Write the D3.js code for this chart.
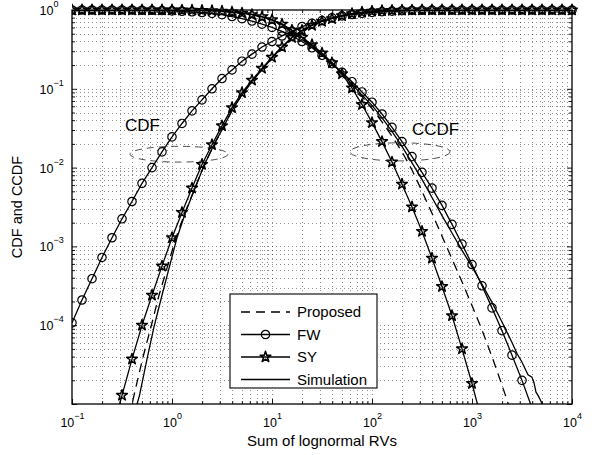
<!DOCTYPE html>
<html>
<head>
<meta charset="utf-8">
<script src="https://cdn.jsdelivr.net/npm/d3@7"></script>
<style>
  body { margin: 0; background: #fff; }
  text { font-family: "Liberation Sans", Arial, Helvetica, sans-serif; fill: #000; }
</style>
</head>
<body>
<svg id="chart" width="602" height="455"></svg>
<script>
// All values are log10 exponents

// x positions of the marker series (one point every 0.1 decade)
const gridExp = [-1.0, -0.9, -0.8, -0.7, -0.6, -0.5, -0.4, -0.3, -0.2, -0.1,
  0.0, 0.1, 0.2, 0.3, 0.4, 0.5, 0.6, 0.7, 0.8, 0.9,
  1.0, 1.1, 1.2, 1.3, 1.4, 1.5, 1.6, 1.7, 1.8, 1.9,
  2.0, 2.1, 2.2, 2.3, 2.4, 2.5, 2.6, 2.7, 2.8, 2.9,
  3.0, 3.1, 3.2, 3.3, 3.4, 3.5, 3.6, 3.7, 3.8, 3.9, 4.0];

// FW (circles)
const fwCdf = [-3.97, -3.68, -3.41, -3.14, -2.89, -2.65, -2.43, -2.20, -2.00, -1.80,
  -1.61, -1.44, -1.28, -1.14, -1.00, -0.87, -0.76, -0.65, -0.56, -0.47,
  -0.40, -0.33, -0.27, -0.21, -0.17, -0.135, -0.10, -0.075, -0.057, -0.042,
  -0.030, -0.021, -0.014, -0.009, -0.006, -0.004, -0.002, -0.001, -0.001, 0,
  0, 0, 0, 0, 0, 0, 0, 0, 0, 0, 0];
const fwCcdf = [0, 0, 0, 0, 0, 0, 0, -0.003, -0.004, -0.007,
  -0.011, -0.016, -0.023, -0.032, -0.044, -0.06, -0.083, -0.11, -0.14, -0.18,
  -0.22, -0.27, -0.33, -0.40, -0.48, -0.575, -0.68, -0.79, -0.91, -1.04,
  -1.17, -1.32, -1.49, -1.67, -1.86, -2.06, -2.26, -2.48, -2.72, -2.97,
  -3.23, -3.50, -3.78, -4.07, -4.38, -4.70, -5.05, -5.42, null, null, null];

// SY (stars)
const syCdf = [null, null, null, null, -5.36, -4.89, -4.43, -4.00, -3.62, -3.25,
  -2.89, -2.57, -2.26, -1.96, -1.71, -1.47, -1.24, -1.05, -0.89, -0.74,
  -0.60, -0.47, -0.35, -0.26, -0.195, -0.145, -0.11, -0.073, -0.047, -0.028,
  -0.016, -0.009, -0.005, -0.003, -0.001, 0, 0, 0, 0, 0,
  0, 0, 0, 0, 0, 0, 0, 0, 0, 0, 0];
const syCcdf = [0, 0, 0, 0, 0, 0, 0, 0, 0, 0,
  0, -0.001, -0.002, -0.005, -0.009, -0.015, -0.026, -0.040, -0.060, -0.087,
  -0.125, -0.18, -0.257, -0.347, -0.441, -0.547, -0.67, -0.81, -0.99, -1.20,
  -1.43, -1.67, -1.93, -2.21, -2.50, -2.81, -3.15, -3.51, -3.88, -4.30,
  -4.74, -5.22, null, null, null, null, null, null, null, null, null];

// Proposed (dashed)
const propCdfX = [-0.43, -0.403, -0.38, -0.295, -0.21, -0.13, -0.044,
  0.04, 0.13, 0.23, 0.325, 0.42, 0.52, 0.615, 0.715, 0.81, 0.91,
  1.005, 1.1, 1.2, 1.3, 1.4, 1.5, 1.6, 1.7, 1.8, 1.9,
  2.0, 2.2, 2.5, 3.0, 4.0];
const propCdfY = [-5.15, -5.02, -4.89, -4.43, -4.02, -3.62, -3.25,
  -2.89, -2.57, -2.26, -1.96, -1.71, -1.47, -1.24, -1.05, -0.89, -0.74,
  -0.60, -0.47, -0.35, -0.26, -0.19, -0.14, -0.105, -0.075, -0.05, -0.037,
  -0.027, -0.013, -0.003, 0, 0];
const propCcdfX = [-1.0, 0.0, 0.3, 0.5, 0.7, 0.8, 0.9, 1.0,
  1.1, 1.2, 1.3, 1.4, 1.5, 1.6, 1.7, 1.8, 1.9,
  2.0, 2.1, 2.2, 2.3, 2.4, 2.5, 2.6, 2.7, 2.8, 2.9,
  3.0, 3.1, 3.2, 3.3, 3.4, 3.5];
const propCcdfY = [0, 0, -0.004, -0.014, -0.04, -0.058, -0.087, -0.126,
  -0.185, -0.265, -0.355, -0.46, -0.57, -0.69, -0.82, -0.96, -1.10,
  -1.25, -1.42, -1.60, -1.80, -2.03, -2.30, -2.58, -2.87, -3.16, -3.45,
  -3.75, -4.06, -4.40, -4.76, -5.14, -5.55];

// Simulation (solid)
const simCdfX = [-0.36, -0.325, -0.25, -0.18, -0.10, -0.024,
  0.05, 0.135, 0.23, 0.325, 0.42, 0.52, 0.615, 0.715, 0.81, 0.91,
  1.005, 1.1, 1.2, 1.3, 1.4, 1.5, 1.6, 1.7, 1.8, 1.9,
  2.0, 2.1, 2.2, 2.3, 2.4, 2.5, 2.7, 3.0, 4.0];
const simCdfY = [-5.05, -4.89, -4.43, -4.02, -3.62, -3.25,
  -2.89, -2.57, -2.26, -1.96, -1.71, -1.47, -1.24, -1.05, -0.89, -0.74,
  -0.60, -0.47, -0.35, -0.26, -0.19, -0.14, -0.105, -0.075, -0.05, -0.037,
  -0.027, -0.019, -0.013, -0.008, -0.005, -0.003, -0.001, 0, 0];
const simCcdfX = [-1.0, 0.0, 0.3, 0.5, 0.7, 0.8, 0.9, 1.0,
  1.1, 1.2, 1.3, 1.4, 1.5, 1.6, 1.7, 1.8, 1.9,
  2.0, 2.1, 2.2, 2.3, 2.4, 2.5, 2.6, 2.7, 2.8, 2.9,
  3.0, 3.1, 3.2, 3.3, 3.4,
  3.45, 3.5, 3.56, 3.6, 3.62, 3.64, 3.66, 3.68, 3.72];
const simCcdfY = [0, 0, -0.004, -0.013, -0.038, -0.056, -0.084, -0.122,
  -0.18, -0.26, -0.35, -0.45, -0.56, -0.68, -0.80, -0.94, -1.08,
  -1.21, -1.37, -1.54, -1.73, -1.94, -2.15, -2.38, -2.61, -2.83, -3.05,
  -3.26, -3.48, -3.71, -3.96, -4.22,
  -4.36, -4.47, -4.63, -4.66, -4.73, -4.85, -4.89, -4.94, -5.05];

// axis ticks (exponents) and texts
const xTickExps = [-1, 0, 1, 2, 3, 4];
const yTickExps = [0, -1, -2, -3, -4];
const legendNames = ["Proposed", "FW", "SY", "Simulation"];

// ---------------------------------------------------------------
const svg = d3.select("#chart");
const plot = { left: 72, right: 572, top: 10, bottom: 404 };

const x = d3.scaleLog().domain([0.1, 1e4]).range([plot.left, plot.right]);
const y = d3.scaleLog().domain([1e-5, 1]).range([plot.bottom, plot.top]);

const toPts = (xs, ys) => xs.map((e, i) => [10 ** e, ys[i] == null ? null : 10 ** ys[i]]);

const defs = svg.append("defs");
defs.append("clipPath").attr("id", "clipLines")
  .append("rect")
  .attr("x", plot.left).attr("y", plot.top)
  .attr("width", plot.right - plot.left).attr("height", plot.bottom - plot.top);
defs.append("clipPath").attr("id", "clipMarks")
  .append("rect")
  .attr("x", plot.left).attr("y", 0)
  .attr("width", 602 - plot.left).attr("height", plot.bottom + 0.5);

// dotted grid (major + minor)
const xGrid = x.ticks().filter(v => v > 0.1 && v < 1e4);
const yGrid = y.ticks().filter(v => v > 1e-5 && v < 1);
const grid = svg.append("g")
  .attr("stroke", "#000")
  .attr("stroke-opacity", 0.55)
  .attr("stroke-width", 0.8)
  .attr("stroke-dasharray", "1,3");
grid.selectAll(".gx").data(xGrid).enter().append("line")
  .attr("x1", d => Math.round(x(d)) + 0.5).attr("x2", d => Math.round(x(d)) + 0.5)
  .attr("y1", plot.top).attr("y2", plot.bottom);
grid.selectAll(".gy").data(yGrid).enter().append("line")
  .attr("y1", d => Math.round(y(d)) + 0.5).attr("y2", d => Math.round(y(d)) + 0.5)
  .attr("x1", plot.left).attr("x2", plot.right);

// tick marks, inward on all four sides
const xMajor = xTickExps.map(e => 10 ** e);
const yMajor = d3.range(-5, 1).map(e => 10 ** e);
const xMinor = x.ticks().filter(v => !xMajor.includes(v));
const yMinor = y.ticks().filter(v => !yMajor.some(m => Math.abs(m - v) / v < 1e-9));

function tickSet(axisFn, scale, values, size, transform) {
  const g = svg.append("g")
    .attr("transform", transform)
    .call(axisFn(scale).tickValues(values).tickSize(-size).tickFormat(""));
  g.select(".domain").remove();
  g.selectAll(".tick line").attr("stroke", "#000").attr("stroke-width", 0.9);
  return g;
}
tickSet(d3.axisBottom, x, xMinor, 3, `translate(0,${plot.bottom})`);
tickSet(d3.axisTop, x, xMinor, 3, `translate(0,${plot.top})`);
tickSet(d3.axisLeft, y, yMinor, 3, `translate(${plot.left},0)`);
tickSet(d3.axisRight, y, yMinor, 3, `translate(${plot.right},0)`);
tickSet(d3.axisTop, x, xMajor, 5, `translate(0,${plot.top})`);
tickSet(d3.axisRight, y, yMajor, 5, `translate(${plot.right},0)`);

// labelled axes
const xAxisG = tickSet(d3.axisBottom, x, xMajor, 5, `translate(0,${plot.bottom})`);
xAxisG.selectAll(".tick").each(function (d, i) {
  const t = d3.select(this).append("text")
    .attr("y", 23).attr("text-anchor", "middle")
    .style("font-size", "12.5px");
  t.append("tspan").text("10");
  t.append("tspan").attr("dy", -8).style("font-size", "9px")
    .text(String(xTickExps[i]).replace("-", "\u2212"));
});

const yAxisG = tickSet(d3.axisLeft, y, yMajor, 5, `translate(${plot.left},0)`);
yAxisG.selectAll(".tick").each(function (d) {
  const e = Math.round(Math.log10(d));
  if (!yTickExps.includes(e)) return;
  const t = d3.select(this).append("text")
    .attr("x", -32.5).attr("y", 4.5).attr("text-anchor", "start")
    .style("font-size", "12.5px");
  t.append("tspan").text("10");
  t.append("tspan").attr("dy", -8).style("font-size", "9px")
    .text(String(e).replace("-", "\u2212"));
});

// axis titles
svg.append("text")
  .attr("x", (plot.left + plot.right) / 2).attr("y", 446)
  .attr("text-anchor", "middle").style("font-size", "15px")
  .text("Sum of lognormal RVs");
svg.append("text")
  .attr("transform", `translate(22,${(plot.top + plot.bottom) / 2}) rotate(-90)`)
  .attr("text-anchor", "middle").style("font-size", "14.5px")
  .text("CDF and CCDF");

// series
const series = [
  { name: "Proposed", parts: [toPts(propCdfX, propCdfY), toPts(propCcdfX, propCcdfY)], dash: "9,6", marker: null },
  { name: "FW", parts: [toPts(gridExp, fwCdf), toPts(gridExp, fwCcdf)], dash: null, marker: "circle" },
  { name: "SY", parts: [toPts(gridExp, syCdf), toPts(gridExp, syCcdf)], dash: null, marker: "star" },
  { name: "Simulation", parts: [toPts(simCdfX, simCdfY), toPts(simCcdfX, simCcdfY)], dash: null, marker: null }
];

const line = d3.line()
  .defined(d => d[1] != null)
  .x(d => x(d[0]))
  .y(d => y(d[1]));

const starPath = d3.symbol(d3.symbolStar, 36)();

function drawMarker(sel, type) {
  if (type === "circle") {
    sel.append("circle").attr("r", 4.2)
      .attr("fill", "none").attr("stroke", "#000").attr("stroke-width", 1.2);
  } else if (type === "star") {
    sel.append("path").attr("d", starPath)
      .attr("fill", "none").attr("stroke", "#000").attr("stroke-width", 1.5)
      .attr("stroke-linejoin", "round");
  }
}

const linesG = svg.append("g").attr("clip-path", "url(#clipLines)");
const marksG = svg.append("g").attr("clip-path", "url(#clipMarks)");

series.forEach(s => {
  s.parts.forEach(pts => {
    linesG.append("path")
      .datum(pts)
      .attr("d", line)
      .attr("fill", "none")
      .attr("stroke", "#000")
      .attr("stroke-width", 1.3)
      .attr("stroke-dasharray", s.dash);
    if (s.marker) {
      marksG.selectAll(null)
        .data(pts.filter(d => d[1] != null && d[1] >= 1e-5))
        .enter().append("g")
        .attr("transform", d => `translate(${x(d[0])},${y(d[1])})`)
        .each(function () { drawMarker(d3.select(this), s.marker); });
    }
  });
});

// dashed ellipses and their labels
const notes = [
  { label: "CDF", cx: 0.07, cy: -1.83, rxDec: 0.49, ryDec: 0.10, tx: -0.295, ty: -1.535 },
  { label: "CCDF", cx: 2.28, cy: -1.80, rxDec: 0.50, ryDec: 0.115, tx: 2.635, ty: -1.585 }
];
notes.forEach(n => {
  svg.append("ellipse")
    .attr("cx", x(10 ** n.cx)).attr("cy", y(10 ** n.cy))
    .attr("rx", x(10 ** (n.cx + n.rxDec)) - x(10 ** n.cx))
    .attr("ry", y(10 ** n.cy) - y(10 ** (n.cy + n.ryDec)))
    .attr("fill", "none").attr("stroke", "#222").attr("stroke-width", 0.8)
    .attr("stroke-dasharray", "7,5");
  svg.append("text")
    .attr("x", x(10 ** n.tx)).attr("y", y(10 ** n.ty))
    .attr("text-anchor", "middle").style("font-size", "17px")
    .text(n.label);
});

// axes box
svg.append("rect")
  .attr("x", plot.left).attr("y", plot.top)
  .attr("width", plot.right - plot.left).attr("height", plot.bottom - plot.top)
  .attr("fill", "none").attr("stroke", "#000").attr("stroke-width", 1.3);

// legend
const lg = svg.append("g").attr("transform", "translate(230,294)");
lg.append("rect").attr("width", 147).attr("height", 94)
  .attr("fill", "#fff").attr("stroke", "#000").attr("stroke-width", 1.1);
series.forEach((s, i) => {
  const row = lg.append("g").attr("transform", `translate(0,${18 + i * 22.5})`);
  row.append("line").attr("x1", 11).attr("x2", 60)
    .attr("stroke", "#000").attr("stroke-width", 1.3)
    .attr("stroke-dasharray", s.dash);
  if (s.marker) drawMarker(row.append("g").attr("transform", "translate(35.5,0)"), s.marker);
  row.append("text").attr("x", 67).attr("y", 5.3)
    .style("font-size", "15px").text(legendNames[i]);
});
</script>
</body>
</html>
